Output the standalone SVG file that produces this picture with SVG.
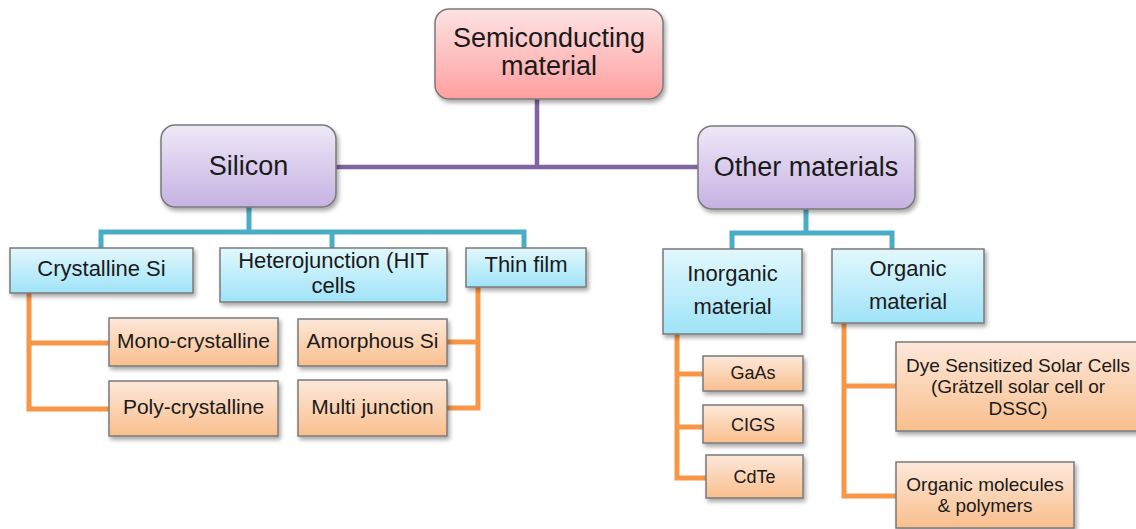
<svg xmlns="http://www.w3.org/2000/svg" width="1136" height="529" viewBox="0 0 1136 529">
<defs>
<linearGradient id="gPink" x1="0" y1="0" x2="0" y2="1"><stop offset="0" stop-color="#fde3e3"/><stop offset="1" stop-color="#ff9f9f"/></linearGradient>
<linearGradient id="gPurple" x1="0" y1="0" x2="0" y2="1"><stop offset="0" stop-color="#eee8f7"/><stop offset="1" stop-color="#c6b2e2"/></linearGradient>
<linearGradient id="gBlue" x1="0" y1="0" x2="0" y2="1"><stop offset="0" stop-color="#e2f8fd"/><stop offset="1" stop-color="#9fe3f8"/></linearGradient>
<linearGradient id="gOrange" x1="0" y1="0" x2="0" y2="1"><stop offset="0" stop-color="#fde8da"/><stop offset="1" stop-color="#f9bf8d"/></linearGradient>
<filter id="sh" x="-10%" y="-10%" width="130%" height="140%"><feDropShadow dx="2" dy="3" stdDeviation="2" flood-color="#000" flood-opacity="0.35"/></filter>
</defs>
<style>
.box{stroke:#7a7a7a;stroke-width:1.5;filter:url(#sh)}
.pink{fill:url(#gPink)}
.purple{fill:url(#gPurple)}
.blue{fill:url(#gBlue)}
.orange{fill:url(#gOrange)}
text{font-family:"Liberation Sans",Arial,sans-serif;fill:#1a1a1a;text-anchor:middle}
.t1{font-size:27px}
.t2{font-size:22px}
.t3{font-size:21px}
.t4{font-size:18px}
.t5{font-size:19px}
.c{fill:none;stroke-width:5;stroke-linejoin:miter}
.cp{stroke:#8064a2;stroke-width:4.5}
.ct{stroke:#4bacc6}
.co{stroke:#f79646}
</style>
<g id="connectors">
<path class="c cp" d="M537,99 V167 M336,167 H698"/>
<path class="c ct" d="M249,207 V232 M101,249 V232 H524 V249 M332,232 V249"/>
<path class="c ct" d="M806,209 V233 M732,249 V233 H892 V249"/>
<path class="c co" d="M29,293 V409 H109 M29,343 H109"/>
<path class="c co" d="M478,287 V408 H447 M478,342 H447"/>
<path class="c co" d="M677,334 V478 H706 M677,374 H703 M677,427 H703"/>
<path class="c co" d="M844,323 V496 H896 M844,386 H896"/>
</g>
<g id="semiconducting">
<rect class="box pink" x="435" y="9" width="228" height="90" rx="14"/>
<text class="t1" x="549" y="47">Semiconducting</text>
<text class="t1" x="549" y="75">material</text>
</g>
<g id="silicon">
<rect class="box purple" x="161" y="125" width="175" height="82" rx="14"/>
<text class="t1" x="248.5" y="175">Silicon</text>
</g>
<g id="other">
<rect class="box purple" x="698" y="126" width="217" height="83" rx="14"/>
<text class="t1" x="806" y="176">Other materials</text>
</g>
<g id="crystalline">
<rect class="box blue" x="10" y="248" width="183" height="45"/>
<text class="t2" x="101.5" y="276">Crystalline Si</text>
</g>
<g id="hetero">
<rect class="box blue" x="220" y="248" width="227" height="54"/>
<text class="t2" x="333.5" y="268">Heterojunction (HIT</text>
<text class="t2" x="333.5" y="293">cells</text>
</g>
<g id="thinfilm">
<rect class="box blue" x="466" y="248" width="120" height="39"/>
<text class="t2" x="526" y="272">Thin film</text>
</g>
<g id="mono">
<rect class="box orange" x="109" y="318" width="169" height="48"/>
<text class="t3" x="193.5" y="348">Mono-crystalline</text>
</g>
<g id="poly">
<rect class="box orange" x="109" y="381" width="169" height="55"/>
<text class="t3" x="193.5" y="414">Poly-crystalline</text>
</g>
<g id="amorphous">
<rect class="box orange" x="298" y="319" width="149" height="47"/>
<text class="t3" x="372.5" y="348">Amorphous Si</text>
</g>
<g id="multi">
<rect class="box orange" x="298" y="380" width="149" height="56"/>
<text class="t3" x="372.5" y="414">Multi junction</text>
</g>
<g id="inorganic">
<rect class="box blue" x="663" y="249" width="139" height="85"/>
<text class="t2" x="732.5" y="281">Inorganic</text>
<text class="t2" x="732.5" y="314">material</text>
</g>
<g id="organic">
<rect class="box blue" x="832" y="249" width="152" height="74"/>
<text class="t2" x="908" y="276">Organic</text>
<text class="t2" x="908" y="309">material</text>
</g>
<g id="gaas">
<rect class="box orange" x="703" y="356" width="100" height="35"/>
<text class="t4" x="753" y="379">GaAs</text>
</g>
<g id="cigs">
<rect class="box orange" x="703" y="405" width="100" height="38"/>
<text class="t4" x="753" y="431">CIGS</text>
</g>
<g id="cdte">
<rect class="box orange" x="706" y="455" width="97" height="43"/>
<text class="t4" x="754.5" y="483">CdTe</text>
</g>
<g id="dssc">
<rect class="box orange" x="896" y="342" width="246" height="89"/>
<text class="t5" x="1018" y="372">Dye Sensitized Solar Cells</text>
<text class="t5" x="1018" y="393">(Grätzell solar cell or</text>
<text class="t5" x="1018" y="415">DSSC)</text>
</g>
<g id="organicmol">
<rect class="box orange" x="896" y="462" width="178" height="66"/>
<text class="t5" x="985" y="491">Organic molecules</text>
<text class="t5" x="985" y="512">&amp; polymers</text>
</g>
</svg>
